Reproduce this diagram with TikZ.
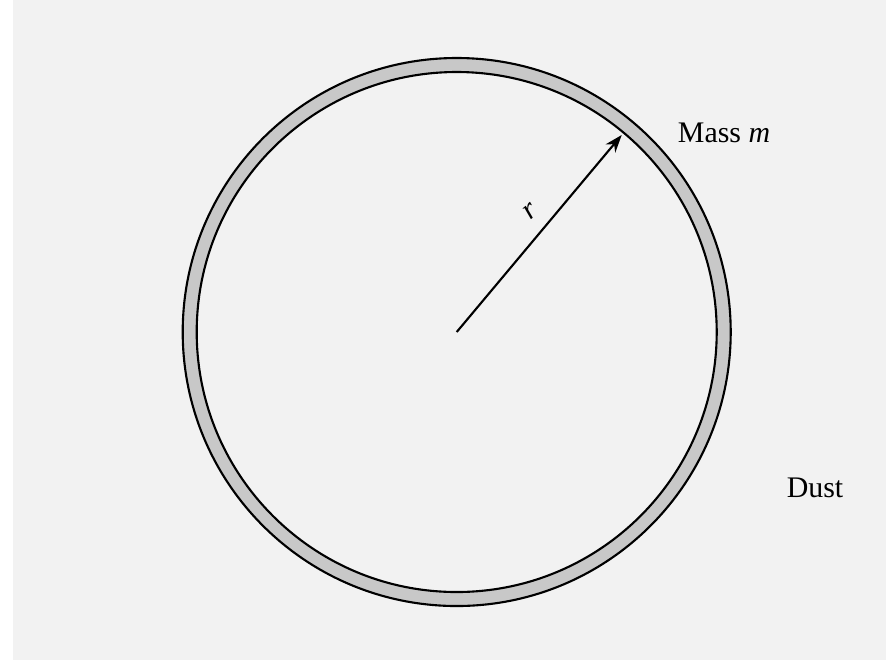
\documentclass[tikz,border=0pt]{standalone}
\usepackage{fontspec}
\setmainfont{Liberation Serif}
\usetikzlibrary{arrows.meta}
\definecolor{bgcol}{HTML}{F2F2F2}
\definecolor{ringcol}{HTML}{C8C8C8}
\tikzset{
  lbl/.style={font=\fontsize{8.5}{10}\selectfont, inner sep=0pt},
  ringline/.style={line width=0.6pt, draw=black},
  radius arrow/.style={line width=0.6pt, -{Stealth[length=5pt,width=3.6pt]}}
}
\begin{document}
\begin{tikzpicture}[x=0.01cm,y=-0.01cm]
\useasboundingbox (0,0) rectangle (886,660);
\fill[white] (0,0) rectangle (886,660);
\fill[bgcol] (13,0) rectangle (886,660);
\coordinate (c) at (456.7,332);
\fill[ringcol, even odd rule] (c) circle[radius=274] (c) circle[radius=260];
\draw[ringline] (c) circle[radius=274];
\draw[ringline] (c) circle[radius=260];
\path (c) ++(165,-197) coordinate (tip);
\draw[radius arrow] (c) -- (tip);
\node[lbl, rotate=40] (r) at (530,211) {\itshape r};
\node[lbl, anchor=base] (mass) at (724,142) {Mass \itshape m};
\node[lbl] (dust) at (815,488) {Dust};
\end{tikzpicture}
\end{document}
